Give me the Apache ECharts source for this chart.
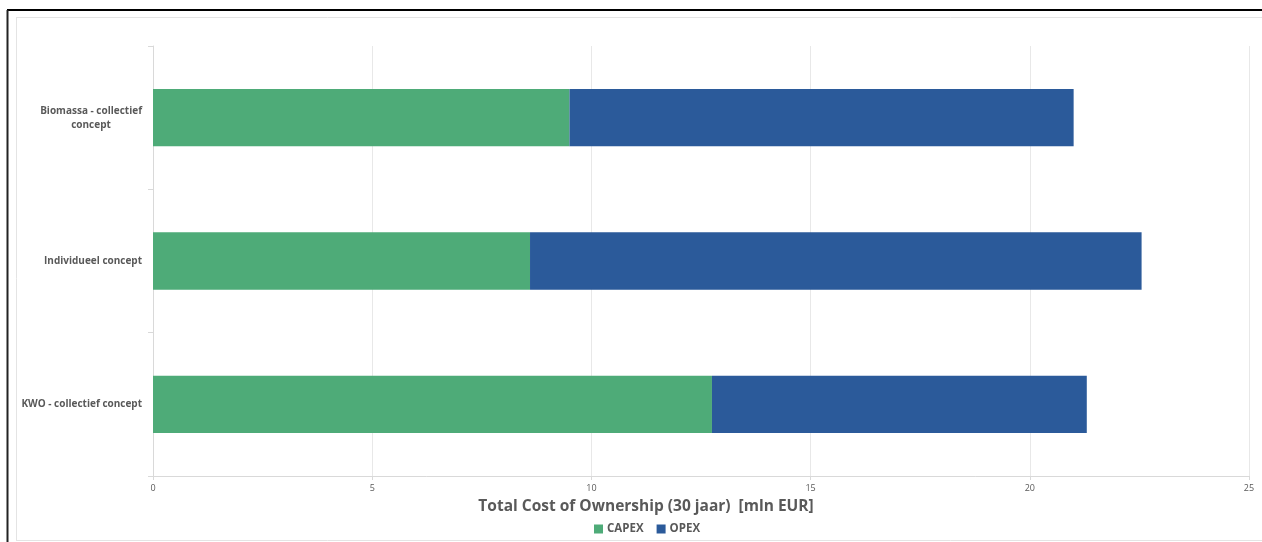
<!DOCTYPE html>
<html>
<head>
<meta charset="utf-8">
<script src="https://cdn.jsdelivr.net/npm/echarts@6/dist/echarts.min.js"></script>
<style>
  html, body { margin: 0; padding: 0; background: #ffffff; }
  #chart { width: 1262px; height: 542px; }
</style>
</head>
<body>
<div id="chart"></div>
<script>
// Scenario names (top to bottom) and cost split in mln EUR
const categories = ['Biomassa - collectief\nconcept', 'Individueel concept', 'KWO - collectief concept'];
const capex = [9.5, 8.6, 12.75];
const opex = [11.5, 13.95, 8.55];
const xTicks = [0, 5, 10, 15, 20, 25];
const axisTitle = 'Total Cost of Ownership (30 jaar)  [mln EUR]';

const FONT = '"Open Sans", "Noto Sans", sans-serif';
const TEXT = '#595959';
const LABEL_SIZE = 10;

// Measure a string so the wrapped second line of a label can be centred under the first
const measureCtx = document.createElement('canvas').getContext('2d');
function textWidth(s) {
  measureCtx.font = 'bold ' + LABEL_SIZE + 'px ' + FONT;
  return Math.ceil(measureCtx.measureText(s).width);
}

const chart = echarts.init(document.getElementById('chart'));
chart.setOption({
  backgroundColor: '#ffffff',
  animation: false,
  textStyle: { fontFamily: FONT },
  grid: { left: 153, right: 13, top: 46, bottom: 66, containLabel: false },
  title: {
    text: axisTitle,
    left: 641,
    top: 494,
    textAlign: 'center',
    textStyle: { fontFamily: FONT, fontSize: 15.5, fontWeight: 'bold', color: TEXT }
  },
  legend: {
    data: ['CAPEX', 'OPEX'],
    left: 589,
    top: 518,
    icon: 'rect',
    itemWidth: 9,
    itemHeight: 9,
    itemGap: 13,
    textStyle: { fontFamily: FONT, fontSize: 11.5, fontWeight: 'bold', color: TEXT, padding: [0, 0, 0, -1] }
  },
  xAxis: {
    type: 'value',
    min: xTicks[0],
    max: xTicks[xTicks.length - 1],
    interval: xTicks[1] - xTicks[0],
    axisLine: { show: true, lineStyle: { color: '#d9d9d9', width: 1 } },
    axisTick: { show: true, length: 4, lineStyle: { color: '#d9d9d9' } },
    axisLabel: { color: TEXT, fontSize: 9, margin: 8, fontFamily: FONT },
    splitLine: { show: true, lineStyle: { color: '#e8e8e8', width: 1 } }
  },
  yAxis: {
    type: 'category',
    data: categories,
    inverse: true,
    axisLine: { show: true, lineStyle: { color: '#d9d9d9' } },
    axisTick: { show: true, length: 5, alignWithLabel: false, lineStyle: { color: '#d9d9d9' } },
    axisLabel: {
      margin: 11,
      color: TEXT,
      fontSize: LABEL_SIZE,
      fontWeight: 'bold',
      lineHeight: 14,
      fontFamily: FONT,
      formatter: function (v) {
        const lines = v.split('\n');
        if (lines.length < 2) return v;
        return lines[0] + '\n' + lines.slice(1).map(l => '{c|' + l + '}').join('\n');
      },
      rich: {
        c: {
          width: textWidth('Biomassa - collectief'),
          align: 'center',
          fontSize: LABEL_SIZE,
          fontWeight: 'bold',
          color: TEXT,
          fontFamily: FONT,
          lineHeight: 14
        }
      }
    }
  },
  series: [
    {
      name: 'CAPEX',
      type: 'bar',
      stack: 'tco',
      data: capex,
      barCategoryGap: '60%',
      itemStyle: { color: '#4eab78' }
    },
    {
      name: 'OPEX',
      type: 'bar',
      stack: 'tco',
      data: opex,
      barCategoryGap: '60%',
      itemStyle: { color: '#2b5a9a' }
    }
  ],
  graphic: [
    // outer frame
    { type: 'line', silent: true, shape: { x1: 7, y1: 10, x2: 1262, y2: 10 }, style: { stroke: '#000000', lineWidth: 2 } },
    { type: 'line', silent: true, shape: { x1: 7.5, y1: 10, x2: 7.5, y2: 542 }, style: { stroke: '#222222', lineWidth: 2 } },
    // inner chart-area border
    { type: 'line', silent: true, shape: { x1: 16, y1: 17.5, x2: 1262, y2: 17.5 }, style: { stroke: '#e4e4e4', lineWidth: 1 } },
    { type: 'line', silent: true, shape: { x1: 16.5, y1: 17.5, x2: 16.5, y2: 540 }, style: { stroke: '#e4e4e4', lineWidth: 1 } },
    { type: 'line', silent: true, shape: { x1: 16, y1: 540.5, x2: 1262, y2: 540.5 }, style: { stroke: '#e4e4e4', lineWidth: 1 } }
  ]
});
</script>
</body>
</html>
